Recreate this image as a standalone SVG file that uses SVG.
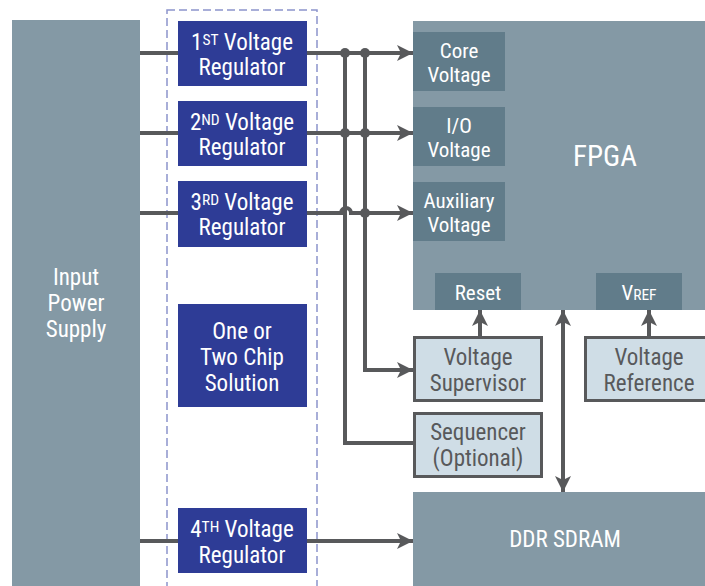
<svg xmlns="http://www.w3.org/2000/svg" width="705" height="586" viewBox="0 0 705 586">
<defs>
<style>
text{font-family:"Liberation Sans Narrow","Roboto Condensed",Roboto,"Liberation Sans",sans-serif;text-anchor:middle}
.w{fill:#ffffff}
.d{fill:#58595b}
.gray{fill:#8499a5}
.dark{fill:#617c8a}
.blue{fill:#2e3c96}
.light{fill:#cfdde6;stroke:#58595b;stroke-width:3}
.ln{fill:none;stroke:#58595b;stroke-width:4}
.t22{font-size:23px}
.t20{font-size:21px}
.sm{font-size:15.5px}
</style>
<marker id="ah" markerUnits="userSpaceOnUse" markerWidth="18" markerHeight="18" refX="16" refY="9" orient="auto-start-reverse" viewBox="0 0 18 18">
<path d="M0,1 L16,9 L0,17 L4,9 Z" fill="#58595b"/>
</marker>
</defs>
<rect width="705" height="586" fill="#ffffff"/>

<g id="dashed-group">
<rect x="167" y="10" width="150" height="590" fill="none" stroke="#8c94cc" stroke-width="1.5" stroke-dasharray="8,4"/>
</g>

<g id="input-power-supply">
<rect class="gray" x="12" y="20" width="128" height="566"/>
<text class="w t22" x="76" y="285">Input</text>
<text class="w t22" x="76" y="311">Power</text>
<text class="w t22" x="76" y="337">Supply</text>
</g>

<g id="connectors">
<path class="ln" d="M140,53 H178"/>
<path class="ln" d="M140,133 H178"/>
<path class="ln" d="M140,213 H178"/>
<path class="ln" d="M140,541 H178"/>
<path class="ln" d="M307,53 H413" marker-end="url(#ah)"/>
<path class="ln" d="M307,133 H413" marker-end="url(#ah)"/>
<path class="ln" d="M307,213 H341 A5,5 0 0 1 351,213 H413" marker-end="url(#ah)"/>
<path class="ln" d="M307,541 H413" marker-end="url(#ah)"/>
<path class="ln" d="M345,53 V443 H413"/>
<path class="ln" d="M365,53 V370 H413" marker-end="url(#ah)"/>
<path class="ln" d="M480,336 V310" marker-end="url(#ah)"/>
<path class="ln" d="M649,336 V310" marker-end="url(#ah)"/>
<path class="ln" d="M563,310 V492" marker-start="url(#ah)" marker-end="url(#ah)"/>
<circle cx="345" cy="53" r="5" fill="#58595b"/>
<circle cx="365" cy="53" r="5" fill="#58595b"/>
<circle cx="345" cy="133" r="5" fill="#58595b"/>
<circle cx="365" cy="133" r="5" fill="#58595b"/>
<circle cx="365" cy="213" r="5" fill="#58595b"/>
</g>

<g id="reg1">
<rect class="blue" x="178" y="21" width="129" height="65"/>
<text class="w t22" x="242" y="50">1<tspan class="sm" dy="-5">ST</tspan><tspan dy="5"> Voltage</tspan></text>
<text class="w t22" x="242" y="75">Regulator</text>
</g>
<g id="reg2">
<rect class="blue" x="178" y="101" width="129" height="65"/>
<text class="w t22" x="242" y="130">2<tspan class="sm" dy="-5">ND</tspan><tspan dy="5"> Voltage</tspan></text>
<text class="w t22" x="242" y="155">Regulator</text>
</g>
<g id="reg3">
<rect class="blue" x="178" y="181" width="129" height="66"/>
<text class="w t22" x="242" y="210">3<tspan class="sm" dy="-5">RD</tspan><tspan dy="5"> Voltage</tspan></text>
<text class="w t22" x="242" y="235">Regulator</text>
</g>
<g id="chip-solution">
<rect class="blue" x="178" y="304" width="129" height="103"/>
<text class="w t22" x="242" y="339">One or</text>
<text class="w t22" x="242" y="365">Two Chip</text>
<text class="w t22" x="242" y="391">Solution</text>
</g>
<g id="reg4">
<rect class="blue" x="178" y="508" width="129" height="65"/>
<text class="w t22" x="242" y="537">4<tspan class="sm" dy="-5">TH</tspan><tspan dy="5"> Voltage</tspan></text>
<text class="w t22" x="242" y="563">Regulator</text>
</g>

<g id="fpga">
<rect class="gray" x="413" y="21" width="292" height="289"/>
<text class="w" x="605" y="166" style="font-size:29px">FPGA</text>
</g>
<g id="core-voltage">
<rect class="dark" x="413" y="32" width="92" height="59"/>
<text class="w t20" x="459" y="58">Core</text>
<text class="w t20" x="459" y="82">Voltage</text>
</g>
<g id="io-voltage">
<rect class="dark" x="413" y="107" width="92" height="59"/>
<text class="w t20" x="459" y="133">I/O</text>
<text class="w t20" x="459" y="157">Voltage</text>
</g>
<g id="aux-voltage">
<rect class="dark" x="413" y="182" width="92" height="59"/>
<text class="w t20" x="459" y="208">Auxiliary</text>
<text class="w t20" x="459" y="232">Voltage</text>
</g>
<g id="reset">
<rect class="dark" x="435" y="273" width="86" height="37"/>
<text class="w t20" x="478" y="300">Reset</text>
</g>
<g id="vref">
<rect class="dark" x="596" y="273" width="86" height="37"/>
<text class="w t20" x="639" y="300">V<tspan class="sm">REF</tspan></text>
</g>

<g id="voltage-supervisor">
<rect class="light" x="414.5" y="337.5" width="127" height="63"/>
<text class="d t22" x="478" y="365">Voltage</text>
<text class="d t22" x="478" y="391">Supervisor</text>
</g>
<g id="sequencer">
<rect class="light" x="414.5" y="413.5" width="127" height="63"/>
<text class="d t22" x="478" y="440">Sequencer</text>
<text class="d t22" x="478" y="466">(Optional)</text>
</g>
<g id="voltage-reference">
<rect class="light" x="585.5" y="337.5" width="125" height="63"/>
<text class="d t22" x="649" y="365">Voltage</text>
<text class="d t22" x="649" y="391">Reference</text>
</g>
<g id="ddr-sdram">
<rect class="gray" x="413" y="492" width="292" height="94"/>
<text class="w t22" x="565" y="547">DDR SDRAM</text>
</g>
</svg>
